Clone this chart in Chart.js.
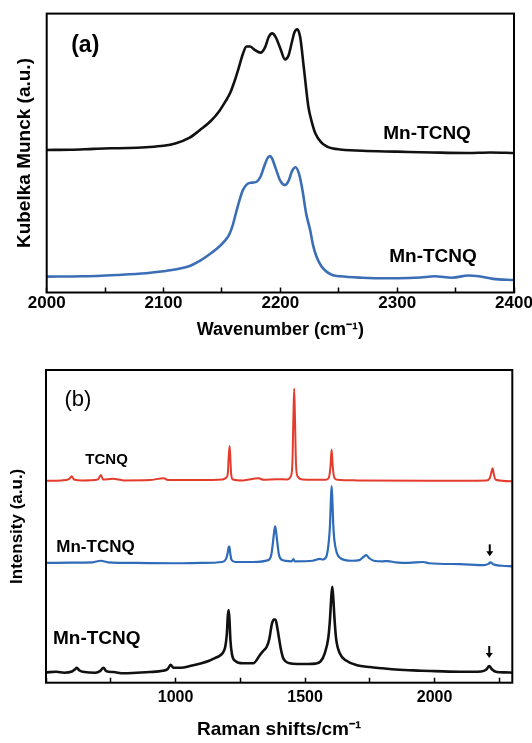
<!DOCTYPE html>
<html>
<head>
<meta charset="utf-8">
<script src="https://cdn.jsdelivr.net/npm/chart.js@4.4.1/dist/chart.umd.min.js"></script>
<style>
  body { margin: 0; background: #fff; }
  .panel { position: absolute; left: 0; }
</style>
</head>
<body>
<div class="panel" style="top:0"><canvas id="chartA" width="532" height="345"></canvas></div>
<div class="panel" style="top:345px"><canvas id="chartB" width="532" height="398"></canvas></div>
<script>
// ---- panel (a): Kubelka Munck vs wavenumber ----
const wnBlackA = [2000, 2020, 2040, 2055, 2070, 2085, 2100, 2110, 2122, 2131, 2140, 2148, 2153, 2157, 2161, 2164, 2168, 2171, 2174, 2178, 2183, 2187, 2190, 2193, 2196, 2200, 2204, 2207, 2210, 2212, 2214.5, 2217, 2220, 2224, 2227, 2230, 2235, 2240, 2245, 2251, 2270, 2300, 2330, 2360, 2380, 2400];
const kmBlackA = [51.1, 51.2, 51.5, 51.7, 51.8, 52.1, 52.6, 53.4, 55.4, 58.2, 61.3, 65.2, 68.5, 71.5, 76.0, 80.0, 85.6, 88.2, 88.2, 87.0, 86.0, 88.0, 91.6, 92.9, 91.6, 87.5, 83.6, 85.0, 90.0, 93.2, 94.4, 91.5, 81.0, 66.6, 61.0, 57.0, 53.8, 52.3, 51.6, 51.3, 50.8, 50.5, 50.2, 50.0, 50.2, 50.0];

const wnBlueA = [2000, 2030, 2060, 2085, 2100, 2112, 2123, 2131, 2140, 2148, 2153, 2156, 2159, 2162, 2165, 2168, 2172, 2176, 2180, 2183, 2186, 2189, 2191, 2193, 2196, 2200, 2204, 2207, 2210, 2213, 2216, 2219, 2222, 2225.5, 2228, 2231, 2235, 2240, 2245, 2251, 2270, 2290, 2310, 2320, 2332, 2347, 2361, 2370, 2382, 2400];
const kmBlueA = [5.7, 5.8, 6.3, 6.9, 7.6, 8.4, 9.6, 11.3, 13.9, 16.6, 18.8, 20.6, 23.8, 28.5, 33.0, 36.8, 39.0, 39.4, 39.8, 41.5, 45.0, 48.2, 48.9, 48.0, 44.5, 40.0, 38.5, 40.0, 43.5, 44.9, 42.5, 36.5, 28.5, 22.4, 17.0, 12.8, 9.5, 7.3, 6.2, 5.8, 5.3, 5.1, 5.2, 5.4, 5.8, 5.3, 6.1, 5.8, 4.9, 4.5];

// ---- panel (b): Raman spectra ----
const wnTCNQ = [500, 560, 590, 599, 608, 640, 700, 712, 720, 757, 800, 900, 955, 970, 1100, 1180, 1195, 1202, 1205, 1209, 1212, 1215, 1222, 1260, 1320, 1340, 1391, 1430, 1445, 1451, 1455, 1458, 1461, 1465, 1471, 1490, 1580, 1592, 1598, 1602.5, 1607, 1613, 1625, 1700, 2000, 2200, 2213, 2219, 2224, 2229, 2236, 2300];
const ramTCNQ = [64.6, 64.7, 65.2, 66.0, 65.0, 64.7, 65.0, 66.4, 65.0, 65.2, 64.7, 64.8, 65.4, 64.8, 64.8, 65.0, 65.5, 67.0, 72.0, 75.7, 71.0, 66.5, 65.0, 64.7, 65.4, 64.9, 65.1, 65.0, 66.0, 70.0, 85.0, 94.0, 85.0, 70.0, 66.0, 65.0, 64.9, 65.6, 69.0, 74.6, 69.0, 65.6, 64.9, 64.7, 64.6, 64.7, 65.4, 67.2, 68.6, 66.5, 64.9, 64.4];

const wnMnBlue = [500, 600, 680, 711, 740, 850, 1000, 1100, 1180, 1195, 1201, 1205, 1208, 1211, 1216, 1230, 1300, 1358, 1370, 1377, 1381, 1384.5, 1388, 1392, 1399, 1410, 1448, 1455, 1460, 1530, 1558, 1567, 1582, 1592.6, 1596.6, 1599.6, 1602.6, 1605.6, 1608.6, 1612.6, 1622.6, 1637, 1680, 1710, 1725, 1736, 1748, 1765, 1800, 1819, 1850, 1900, 1955, 1980, 2100, 2190, 2208, 2216, 2226, 2260, 2300];
const ramMnBlue = [38.3, 38.4, 38.5, 39.0, 38.5, 38.3, 38.2, 38.3, 38.6, 39.6, 41.3, 43.3, 43.5, 41.5, 39.3, 38.6, 38.6, 39.2, 41.0, 45.5, 48.5, 50.0, 48.5, 45.5, 41.0, 39.3, 38.8, 39.5, 38.8, 39.0, 39.6, 39.4, 40.3, 46.0, 51.0, 58.0, 62.9, 58.0, 51.0, 46.0, 41.5, 39.8, 39.0, 39.2, 40.2, 40.8, 39.8, 39.0, 38.8, 38.9, 38.5, 38.3, 38.6, 38.2, 37.9, 37.6, 38.0, 38.5, 37.9, 37.4, 37.2];

const wnMnBlack = [500, 540, 570, 600, 612, 619, 628, 650, 690, 710, 722, 732, 760, 800, 850, 900, 950, 970, 981, 992, 1020, 1060, 1100, 1130, 1150, 1170, 1182, 1192, 1198, 1202, 1205, 1208, 1212, 1218, 1230, 1260, 1300, 1327, 1340, 1352, 1362, 1372, 1380, 1386, 1393, 1400, 1406, 1415, 1425, 1440, 1470, 1510, 1540, 1560, 1576, 1590, 1596, 1601, 1605, 1609, 1614, 1620, 1634, 1660, 1700, 1750, 1800, 1850, 1900, 1950, 2000, 2100, 2180, 2200, 2211, 2222, 2240, 2270, 2300];
const ramMnBlack = [3.3, 3.5, 3.2, 3.6, 4.3, 4.8, 4.0, 3.4, 3.2, 3.8, 4.8, 3.7, 3.4, 3.0, 3.2, 3.4, 3.8, 4.4, 5.7, 4.8, 4.8, 5.4, 6.2, 7.0, 7.8, 8.6, 9.5, 11.5, 15.5, 21.5, 23.2, 20.5, 13.5, 9.0, 7.0, 6.2, 6.2, 9.0, 10.3, 11.5, 14.0, 18.8, 20.2, 20.2, 17.5, 14.0, 11.0, 8.0, 6.8, 6.2, 6.0, 6.0, 6.1, 6.8, 9.4, 14.5, 20.0, 27.0, 30.7, 27.0, 20.0, 14.0, 9.4, 7.0, 5.6, 5.0, 4.6, 4.2, 4.0, 3.8, 3.7, 3.5, 3.6, 4.2, 5.3, 4.2, 3.4, 3.3, 3.2];

// tick marks (all) and the ones that get a label
const tickPosA = [2000, 2050, 2100, 2150, 2200, 2250, 2300, 2350, 2400];
const tickLabelsA = [2000, 2100, 2200, 2300, 2400];
const tickPosB = [500, 750, 1000, 1250, 1500, 1750, 2000, 2250];
const tickLabelsB = [1000, 1500, 2000];

const FONT = "'Liberation Sans', Arial, sans-serif";
Chart.defaults.font.family = FONT;
Chart.defaults.color = "#000";

function pts(xs, ys) {
  return xs.map((x, i) => ({ x: x, y: ys[i] }));
}

// box around the plot area
const framePlugin = {
  id: "frame",
  afterDraw(chart) {
    const a = chart.chartArea;
    const ctx = chart.ctx;
    ctx.save();
    ctx.strokeStyle = "#000";
    ctx.lineWidth = 2;
    ctx.strokeRect(a.left, a.top, a.right - a.left, a.bottom - a.top);
    ctx.restore();
  },
};

// text notes and little arrows placed in data coordinates
const notesPlugin = {
  id: "notes",
  afterDatasetsDraw(chart, args, opts) {
    const ctx = chart.ctx;
    const sx = chart.scales.x;
    const sy = chart.scales.y;
    ctx.save();
    ctx.textAlign = "center";
    ctx.textBaseline = "middle";
    (opts.items || []).forEach((n) => {
      ctx.font = n.font;
      ctx.fillStyle = n.color || "#000";
      ctx.fillText(n.text, sx.getPixelForValue(n.x), sy.getPixelForValue(n.y));
    });
    (opts.arrows || []).forEach((a) => {
      const px = sx.getPixelForValue(a.x);
      const py = sy.getPixelForValue(a.y); // arrow tip
      ctx.strokeStyle = "#000";
      ctx.fillStyle = "#000";
      ctx.lineWidth = 2;
      ctx.beginPath();
      ctx.moveTo(px, py - 12);
      ctx.lineTo(px, py - 4);
      ctx.stroke();
      ctx.beginPath();
      ctx.moveTo(px - 3.5, py - 5);
      ctx.lineTo(px + 3.5, py - 5);
      ctx.lineTo(px, py);
      ctx.closePath();
      ctx.fill();
    });
    ctx.restore();
  },
};

function xAxis(min, max, tickPos, labels, fontSize, tickPad, title, titleSize, titlePad, height) {
  return {
    type: "linear",
    min: min,
    max: max,
    border: { display: false },
    grid: {
      drawOnChartArea: false,
      drawTicks: true,
      tickLength: -5,
      tickColor: "#000",
      tickWidth: 1.5,
    },
    ticks: {
      autoSkip: false,
      maxRotation: 0,
      padding: tickPad,
      font: { size: fontSize, weight: "bold" },
      callback: (v) => (labels.includes(v) ? String(v) : ""),
    },
    afterBuildTicks(s) {
      s.ticks = tickPos.map((v) => ({ value: v }));
    },
    title: {
      display: true,
      text: title,
      font: { size: titleSize, weight: "bold" },
      padding: { top: 0, bottom: titlePad },
    },
    afterFit(s) {
      s.height = height;
      s.paddingLeft = 0;
      s.paddingRight = 0;
    },
  };
}

function yAxis(title, titleSize, titlePad, width) {
  return {
    min: 0,
    max: 100,
    border: { display: false },
    grid: { display: false },
    ticks: { display: false },
    title: {
      display: true,
      text: title,
      font: { size: titleSize, weight: "bold" },
      padding: { top: titlePad, bottom: 0 },
    },
    afterFit(s) {
      s.width = width;
    },
  };
}

function line(data, color, width) {
  return {
    data: data,
    borderColor: color,
    borderWidth: width,
    pointRadius: 0,
    fill: false,
    cubicInterpolationMode: "monotone",
  };
}

// CHART (a)
new Chart(document.getElementById("chartA"), {
  type: "line",
  data: {
    datasets: [
      line(pts(wnBlackA, kmBlackA), "#111111", 2.6),
      line(pts(wnBlueA, kmBlueA), "#3b6eb5", 2.6),
    ],
  },
  options: {
    responsive: false,
    devicePixelRatio: 1,
    animation: false,
    layout: { padding: { top: 13.6, right: 18, bottom: 0, left: 0 } },
    scales: {
      x: xAxis(2000, 2400, tickPosA, tickLabelsA, 17, 5.3, "Wavenumber (cm\u207B\u00B9)", 18, 4.2, 52.5),
      y: yAxis("Kubelka Munck (a.u.)", 19, 13.2, 46.7),
    },
    plugins: {
      legend: { display: false },
      tooltip: { enabled: false },
      notes: {
        items: [
          { text: "(a)", x: 2033, y: 88.6, font: "bold 23px " + FONT },
          { text: "Mn-TCNQ", x: 2325.6, y: 56.9, font: "bold 19px " + FONT },
          { text: "Mn-TCNQ", x: 2330.7, y: 12.7, font: "bold 19px " + FONT },
        ],
      },
    },
  },
  plugins: [framePlugin, notesPlugin],
});

// CHART (b)
new Chart(document.getElementById("chartB"), {
  type: "line",
  data: {
    datasets: [
      line(pts(wnTCNQ, ramTCNQ), "#e43c2c", 2),
      line(pts(wnMnBlue, ramMnBlue), "#2f6bb8", 2.2),
      line(pts(wnMnBlack, ramMnBlack), "#111111", 2.6),
    ],
  },
  options: {
    responsive: false,
    devicePixelRatio: 1,
    animation: false,
    layout: { padding: { top: 25, right: 19.7, bottom: 0, left: 0 } },
    scales: {
      x: xAxis(500, 2300, tickPosB, tickLabelsB, 16, 10.7, "Raman shifts/cm\u207B\u00B9", 19, 1.6, 60.3),
      y: yAxis("Intensity (a.u.)", 17, 7.4, 46),
    },
    plugins: {
      legend: { display: false },
      tooltip: { enabled: false },
      notes: {
        items: [
          { text: "(b)", x: 623, y: 90.4, font: "22px " + FONT },
          { text: "TCNQ", x: 734, y: 71.2, font: "bold 15px " + FONT },
          { text: "Mn-TCNQ", x: 691, y: 43.2, font: "bold 17px " + FONT },
          { text: "Mn-TCNQ", x: 696, y: 14.0, font: "bold 19px " + FONT },
        ],
        arrows: [
          { x: 2213, y: 40.4 },
          { x: 2211, y: 7.9 },
        ],
      },
    },
  },
  plugins: [framePlugin, notesPlugin],
});
</script>
</body>
</html>
